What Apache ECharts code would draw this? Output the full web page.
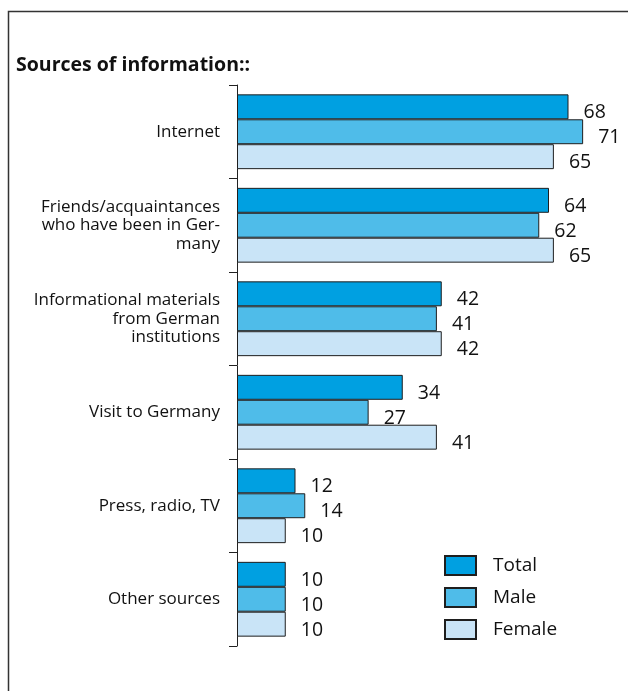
<!DOCTYPE html>
<html>
<head>
<meta charset="utf-8">
<script src="https://cdn.jsdelivr.net/npm/echarts@6/dist/echarts.min.js"></script>
<style>
  html, body { margin: 0; padding: 0; background: #fff; }
  #chart { width: 628px; height: 691px; }
</style>
</head>
<body>
<div id="chart"></div>
<script>
// Survey results: share of respondents naming each source (%)
const categories = [
  'Internet',
  'Friends/acquaintances\nwho have been in Ger-\nmany',
  'Informational materials\nfrom German\ninstitutions',
  'Visit to Germany',
  'Press, radio, TV',
  'Other sources'
];
const seriesNames = ['Total', 'Male', 'Female'];
const totalValues = [68, 64, 42, 34, 12, 10];
const maleValues = [71, 62, 41, 27, 14, 10];
const femaleValues = [65, 65, 42, 41, 10, 10];

const colors = ['#00a0e1', '#4fbce9', '#c9e4f7'];
const FONT = '"Open Sans", "Noto Sans", sans-serif';

const chart = echarts.init(document.getElementById('chart'), null, { renderer: 'canvas' });

function makeSeries(name, data, color) {
  return {
    name: name,
    type: 'bar',
    data: data,
    barGap: '0%',
    barCategoryGap: '20%',
    itemStyle: { color: color, borderColor: '#1e1e1e', borderWidth: 1 },
    label: {
      show: true,
      position: 'right',
      distance: 15,
      offset: [0, 6],
      color: '#111',
      fontFamily: FONT,
      fontSize: 19.5
    },
    emphasis: { disabled: true }
  };
}

chart.setOption({
  animation: false,
  backgroundColor: '#fff',
  title: {
    text: 'Sources of information::',
    left: 16,
    top: 55,
    padding: 0,
    textStyle: { fontFamily: FONT, fontSize: 19.5, fontWeight: 'bold', color: '#111' }
  },
  legend: {
    data: seriesNames,
    orient: 'vertical',
    left: 444,
    top: 555,
    padding: 0,
    itemWidth: 31,
    itemHeight: 19,
    itemGap: 11,
    icon: 'rect',
    textStyle: { fontFamily: FONT, fontSize: 19, color: '#111', padding: [0, 0, 0, 12] }
  },
  grid: { left: 237, top: 85, width: 390, height: 561, containLabel: false },
  xAxis: {
    type: 'value',
    min: 0,
    max: 80,
    show: false
  },
  yAxis: {
    type: 'category',
    data: categories,
    inverse: true,
    axisLine: { show: true, lineStyle: { color: '#222', width: 1 } },
    axisTick: { show: true, inside: false, length: 8, lineStyle: { color: '#222', width: 1 } },
    axisLabel: {
      margin: 17,
      color: '#111',
      fontFamily: FONT,
      fontSize: 17,
      lineHeight: 18.5,
      align: 'right'
    },
    splitLine: { show: false }
  },
  series: [
    makeSeries(seriesNames[0], totalValues, colors[0]),
    makeSeries(seriesNames[1], maleValues, colors[1]),
    makeSeries(seriesNames[2], femaleValues, colors[2])
  ],
  graphic: [{
    type: 'polyline',
    silent: true,
    shape: { points: [[8.5, 700], [8.5, 11.5], [640, 11.5]] },
    style: { stroke: '#333', lineWidth: 1.5, fill: null }
  }]
});
</script>
</body>
</html>
